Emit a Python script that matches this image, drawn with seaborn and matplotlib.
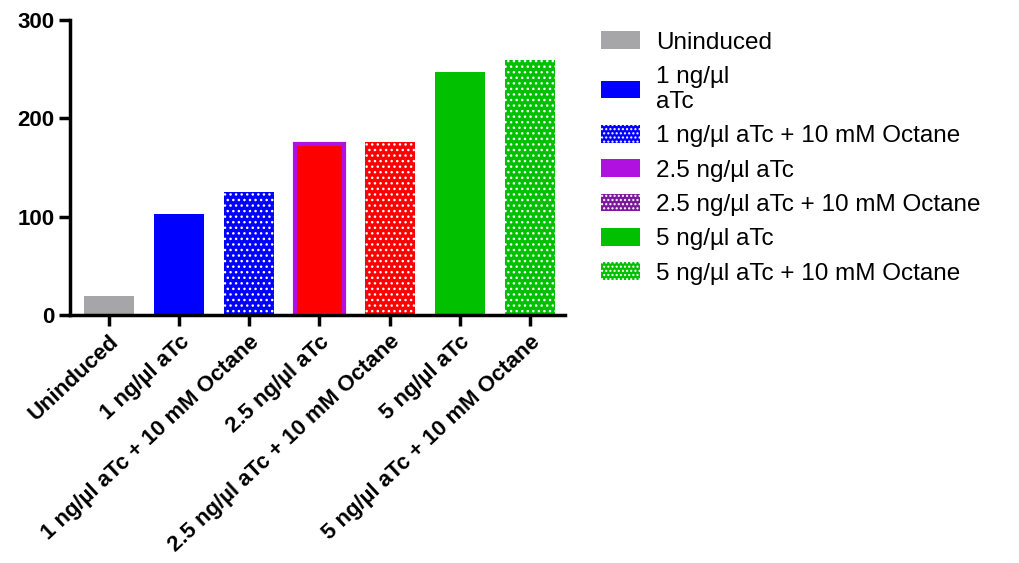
import matplotlib
matplotlib.use('Agg')
import matplotlib.pyplot as plt
from matplotlib.patches import Patch
import seaborn as sns
import pandas as pd

# 数据
categories = ['Uninduced', '1 ng/µl aTc', '1 ng/µl aTc + 10 mM Octane',
              '2.5 ng/µl aTc', '2.5 ng/µl aTc + 10 mM Octane',
              '5 ng/µl aTc', '5 ng/µl aTc + 10 mM Octane']
values = [20, 103, 125, 174, 176, 247, 259]
bar_colors = ['#a6a6a8', '#0000ff', '#0000ff', '#ff0000', '#ff0000', '#00c000', '#00c000']
dotted = [False, False, True, False, True, False, True]

legend_labels = ['Uninduced', '1 ng/µl\naTc', '1 ng/µl aTc + 10 mM Octane',
                 '2.5 ng/µl aTc', '2.5 ng/µl aTc + 10 mM Octane',
                 '5 ng/µl aTc', '5 ng/µl aTc + 10 mM Octane']
legend_colors = ['#a6a6a8', '#0000ff', '#0000ff', '#b010e0', '#7a1a9a', '#00c000', '#00c000']

sns.set_style('ticks')
plt.rcParams['font.family'] = ['Liberation Sans', 'DejaVu Sans']
plt.rcParams['hatch.linewidth'] = 1.0
plt.rcParams['text.color'] = 'black'
plt.rcParams['xtick.color'] = 'black'
plt.rcParams['ytick.color'] = 'black'
plt.rcParams['axes.edgecolor'] = 'black'

df = pd.DataFrame({'cond': categories, 'val': values})

fig = plt.figure(figsize=(10.2, 5.63), dpi=100)
ax = fig.add_axes([0.069, 0.44, 0.485, 0.525])
sns.barplot(data=df, x='cond', y='val', hue='cond', palette=bar_colors,
            legend=False, width=0.71, saturation=1, ax=ax)

for p, d in zip(ax.patches, dotted):
    p.set_linewidth(0)
    if d:
        p.set_hatch('...')
        p.set_edgecolor('white')
# 2.5 ng/µl aTc 柱子带紫色边框
ax.patches[3].set_edgecolor('#b010e0')
ax.patches[3].set_linewidth(3)

ax.set_ylim(0, 300)
ax.set_xlim(-0.55, 6.5)
ax.set_yticks([0, 100, 200, 300])
ax.set_xlabel('')
ax.set_ylabel('')
sns.despine(ax=ax)
for s in ['left', 'bottom']:
    ax.spines[s].set_linewidth(2.5)
ax.tick_params(axis='both', width=2.5, length=8, labelsize=16)
for t in ax.get_yticklabels():
    t.set_fontweight('bold')
ax.set_xticks(range(len(categories)))
ax.set_xticklabels(categories, rotation=43, ha='right', rotation_mode='anchor',
                   fontweight='bold', fontsize=16)

handles = []
for c, lab, d in zip(legend_colors, legend_labels, dotted):
    if d:
        handles.append(Patch(facecolor=c, edgecolor='white', hatch='....', linewidth=0, label=lab))
    else:
        handles.append(Patch(facecolor=c, edgecolor=c, linewidth=0, label=lab))
fig.legend(handles=handles, loc='upper left', bbox_to_anchor=(0.568, 0.983),
           frameon=False, fontsize=17.5, handlelength=1.6, handleheight=0.75,
           labelspacing=0.49, handletextpad=0.65)

plt.savefig('out.png', dpi=100)
